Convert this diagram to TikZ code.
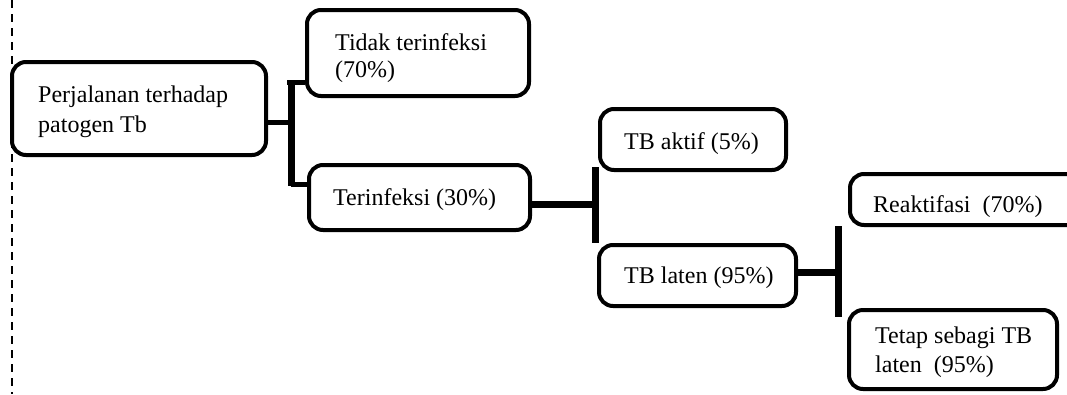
\documentclass[tikz,border=0pt]{standalone}
\usepackage{fontspec}
\setmainfont{Liberation Serif}
\begin{document}
\begin{tikzpicture}[x=1pt,y=-1pt,
  box/.style={draw, line width=4pt, rounded corners=14pt, inner sep=0pt},
  txt/.style={anchor=base west, inner sep=0pt, font=\fontsize{24}{28}\selectfont},
  bar/.style={line width=7pt},
  link/.style={line width=5pt},
  sidedash/.style={line width=2pt, dash pattern=on 8pt off 6pt}]
\useasboundingbox (0,0) rectangle (1067,394);
\clip (0,0) rectangle (1067,394);

% left dashed margin line
\coordinate (dtop) at (12,0);
\coordinate (dbot) at (12,394);
\draw[sidedash] (dtop) -- (dbot);

% boxes
\node[box, minimum width=254pt, minimum height=93pt] (b1) at (139,108.5) {};
\node[box, minimum width=222pt, minimum height=86pt] (b2) at (418,53) {};
\node[box, minimum width=221pt, minimum height=65pt] (b3) at (419.5,197.5) {};
\node[box, minimum width=186pt, minimum height=61pt] (b4) at (693,139.5) {};
\node[box, minimum width=197pt, minimum height=61pt] (b5) at (697.5,275.5) {};
\node[box, minimum width=240pt, minimum height=51pt] (b6) at (970,199.5) {};
\node[box, minimum width=208pt, minimum height=79pt] (b7) at (953,349.5) {};

% texts
\node[txt] (t1a) at (38,102) {Perjalanan terhadap};
\node[txt] (t1b) at (38,132) {patogen Tb};
\node[txt] (t2a) at (335,50) {Tidak terinfeksi};
\node[txt] (t2b) at (335,77) {(70\%)};
\node[txt] (t3) at (333,205) {Terinfeksi (30\%)};
\node[txt] (t4) at (624,149) {TB aktif (5\%)};
\node[txt] (t5) at (624,283) {TB laten (95\%)};
\node[txt] (t6) at (873,212) {Reaktifasi\ \ (70\%)};
\node[txt] (t7a) at (875,343) {Tetap sebagi TB};
\node[txt] (t7b) at (875,372) {laten\ \ (95\%)};

% bracket 1
\coordinate (j1) at (291,122);
\coordinate (j1t) at (291,80);
\coordinate (j1b) at (291,186);
\draw[link] (b1.east |- j1) -- (j1);
\draw[bar] (j1t) -- (j1b);
\draw[link] ([xshift=-4pt]j1t |- 0,82) -- (b2.west |- 0,82);
\draw[link] (j1b |- 0,184) -- (b3.west |- 0,184);

% bracket 2
\coordinate (j2) at (595,204);
\coordinate (j2t) at (595,167);
\coordinate (j2b) at (595,243);
\draw[bar] (b3.east |- j2) -- (j2);
\draw[bar] (j2t) -- (j2b);

% bracket 3
\coordinate (j3) at (838,272);
\coordinate (j3t) at (838,226);
\coordinate (j3b) at (838,317);
\draw[bar] (b5.east |- j3) -- (j3);
\draw[bar] (j3t) -- (j3b);
\end{tikzpicture}
\end{document}
